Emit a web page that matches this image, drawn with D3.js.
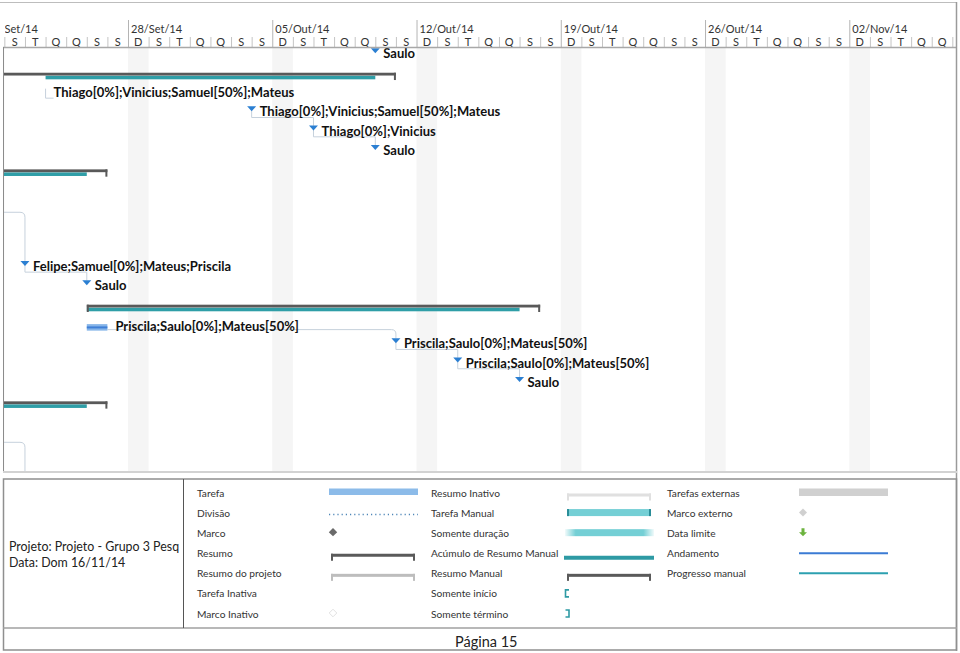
<!DOCTYPE html>
<html><head><meta charset="utf-8">
<script src="https://cdn.jsdelivr.net/npm/d3@7"></script>
<style>body{margin:0;background:#fff}svg{display:block}</style>
</head><body><svg id="c" width="960" height="653"></svg>
<script>
// ---------- data ----------
const weekStarts = ["2014-09-21","2014-09-28","2014-10-05","2014-10-12","2014-10-19","2014-10-26","2014-11-02"];
const weekLabels = ["21/Set/14","28/Set/14","05/Out/14","12/Out/14","19/Out/14","26/Out/14","02/Nov/14"];
const dayLetters = ["D","S","T","Q","Q","S","S"];

const summaryRows  = [1, 6, 13, 18];
const summaryStart = ["2014-09-19","2014-09-15","2014-09-26","2014-09-15"];
const summaryEnd   = ["2014-10-11","2014-09-27","2014-10-18","2014-09-27"];
const rollupStart  = ["2014-09-24","2014-09-15","2014-09-26","2014-09-15"];
const rollupEnd    = ["2014-10-10","2014-09-26","2014-10-17","2014-09-26"];

const milestoneRows   = [0, 3, 4, 5, 11, 12, 15, 16, 17];
const milestoneDates  = ["2014-10-10","2014-10-04","2014-10-07","2014-10-10","2014-09-23","2014-09-26","2014-10-11","2014-10-14","2014-10-17"];
const milestoneLabels = ["Saulo","Thiago[0%];Vinicius;Samuel[50%];Mateus","Thiago[0%];Vinicius","Saulo",
  "Felipe;Samuel[0%];Mateus;Priscila","Saulo","Priscila;Saulo[0%];Mateus[50%]","Priscila;Saulo[0%];Mateus[50%]","Saulo"];

const taskRows   = [14];
const taskStart  = ["2014-09-26"];
const taskEnd    = ["2014-09-27"];
const taskLabels = ["Priscila;Saulo[0%];Mateus[50%]"];

const noteRows   = [2];
const noteDates  = ["2014-09-24"];
const noteLabels = ["Thiago[0%];Vinicius;Samuel[50%];Mateus"];

// links: milestone -> next milestone
const linkFromRow  = [3, 4, 11, 15, 16];
const linkFromDate = ["2014-10-04","2014-10-07","2014-09-23","2014-10-11","2014-10-14"];
const linkToRow    = [4, 5, 12, 16, 17];
const linkToDate   = ["2014-10-07","2014-10-10","2014-09-26","2014-10-14","2014-10-17"];
// link from task bar end to milestone
const barLinkFromRow = [14], barLinkFromDate = ["2014-09-27"], barLinkToRow = [15], barLinkToDate = ["2014-10-11"];
// links entering from the left edge
const edgeLinkRow = [8.55, 20.45], edgeLinkToRow = [11, 23], edgeLinkDate = ["2014-09-23","2014-09-23"];

const legendCol1 = ["Tarefa","Divisão","Marco","Resumo","Resumo do projeto","Tarefa Inativa","Marco Inativo"];
const legendCol2 = ["Resumo Inativo","Tarefa Manual","Somente duração","Acúmulo de Resumo Manual","Resumo Manual","Somente início","Somente término"];
const legendCol3 = ["Tarefas externas","Marco externo","Data limite","Andamento","Progresso manual"];
const projectLines = ["Projeto: Projeto - Grupo 3 Pesq","Data: Dom 16/11/14"];
const pageLabel = "Página 15";

// ---------- setup ----------
const parse = d3.timeParse("%Y-%m-%d");
const svg = d3.select("#c");
const L = 3, R = 957, headerBottom = 47, chartBottom = 472;
const x = d3.scaleTime().domain([parse("2014-09-28"), parse("2014-11-02")]).range([128, 849.3]);
const row = d3.scaleLinear().domain([0, 22]).range([headerBottom, headerBottom + 22 * 19.33]);
const day = d3.timeDay;
const F = "Lato, 'Segoe UI', sans-serif";

const defs = svg.append("defs");
defs.append("clipPath").attr("id","cl").append("rect")
  .attr("x", L).attr("y", 0).attr("width", R - L).attr("height", chartBottom);
defs.append("clipPath").attr("id","clh").append("rect")
  .attr("x", 5).attr("y", 0).attr("width", R - 5).attr("height", chartBottom);

const g = svg.append("g").attr("clip-path","url(#cl)");
const gh = svg.append("g").attr("clip-path","url(#clh)");

// all days in view
const days = day.range(parse("2014-09-21"), parse("2014-11-09"));

// Sunday shading
g.selectAll("rect.sun").data(days.filter(d => d.getDay() === 0)).join("rect")
  .attr("x", d => x(d)).attr("width", d => x(day.offset(d,1)) - x(d))
  .attr("y", headerBottom + 1).attr("height", chartBottom - headerBottom - 1)
  .attr("fill", "#f5f5f5");

// header
g.selectAll("line.wk").data(weekStarts).join("line")
  .attr("x1", d => x(parse(d)) + 0.5).attr("x2", d => x(parse(d)) + 0.5)
  .attr("y1", 20).attr("y2", headerBottom).attr("stroke", "#b4b4b4");
gh.selectAll("text.wk").data(weekStarts).join("text")
  .attr("x", d => x(parse(d)) + 3).attr("y", 33)
  .attr("font-family", F).attr("font-size", 11).attr("fill", "#333")
  .text((d, i) => weekLabels[i]);
g.selectAll("line.dy").data(days.filter(d => d.getDay() !== 0)).join("line")
  .attr("x1", d => x(d) + 0.5).attr("x2", d => x(d) + 0.5)
  .attr("y1", 37).attr("y2", headerBottom).attr("stroke", "#c4c4c4");
g.selectAll("text.dy").data(days).join("text")
  .attr("x", d => (x(d) + x(day.offset(d,1))) / 2).attr("y", 45.5)
  .attr("text-anchor","middle")
  .attr("font-family", F).attr("font-size", 11).attr("fill", "#333")
  .text(d => dayLetters[d.getDay()]);

// borders
svg.append("line").attr("x1", 0).attr("x2", R).attr("y1", 2.5).attr("y2", 2.5).attr("stroke", "#bdbdbd");
svg.append("line").attr("x1", L).attr("x2", R).attr("y1", headerBottom + 0.5).attr("y2", headerBottom + 0.5).attr("stroke", "#a8a8a8").attr("stroke-width", 1.5);
svg.append("line").attr("x1", L + 0.5).attr("x2", L + 0.5).attr("y1", headerBottom).attr("y2", chartBottom).attr("stroke", "#8c8c8c");
svg.append("line").attr("x1", R - 0.5).attr("x2", R - 0.5).attr("y1", 2).attr("y2", 651).attr("stroke", "#9a9a9a").attr("stroke-width", 1.5);
svg.append("line").attr("x1", L).attr("x2", R).attr("y1", chartBottom).attr("y2", chartBottom).attr("stroke", "#d2d2d2").attr("stroke-width", 2);

// ---------- links ----------
const linkColor = "#c6d1dc";
function rounded(pts, r) {
  let p = `M${pts[0][0]},${pts[0][1]}`;
  for (let i = 1; i < pts.length - 1; i++) {
    const [x0,y0] = pts[i-1], [x1,y1] = pts[i], [x2,y2] = pts[i+1];
    const d1 = Math.hypot(x1-x0,y1-y0), d2 = Math.hypot(x2-x1,y2-y1);
    const rr = Math.min(r, d1/2, d2/2);
    const ax = x1 - (x1-x0)/d1*rr, ay = y1 - (y1-y0)/d1*rr;
    const bx = x1 + (x2-x1)/d2*rr, by = y1 + (y2-y1)/d2*rr;
    p += `L${ax},${ay}Q${x1},${y1} ${bx},${by}`;
  }
  const e = pts[pts.length-1];
  return p + `L${e[0]},${e[1]}`;
}
const lg = g.append("g").attr("fill","none").attr("stroke", linkColor).attr("stroke-width", 1);
linkFromRow.forEach((fr, i) => {
  const x1 = x(parse(linkFromDate[i])), x2 = x(parse(linkToDate[i]));
  const yb = row(fr) + 5.5, ym = row(fr) + 12.5, yt = row(linkToRow[i]) + 1.5;
  lg.append("path").attr("d", rounded([[x1,yb],[x1,ym],[x2,ym],[x2,yt]], 0));
});
barLinkFromRow.forEach((fr, i) => {
  const x1 = x(parse(barLinkFromDate[i])), x2 = x(parse(barLinkToDate[i]));
  const ym = row(fr) + 12, yt = row(barLinkToRow[i]) + 1.5;
  lg.append("path").attr("d", rounded([[x1,ym],[x2,ym],[x2,yt]], 5));
});
edgeLinkRow.forEach((r, i) => {
  const x2 = x(parse(edgeLinkDate[i]));
  lg.append("path").attr("d", rounded([[L, row(r)],[x2, row(r)],[x2, row(edgeLinkToRow[i]) + 1.5]], 5));
});
noteRows.forEach((r, i) => {
  const x1 = x(parse(noteDates[i]));
  lg.append("path").attr("d", `M${x1},${row(r)+3}V${row(r)+12.5}H${x1+8}`);
});

// ---------- summaries ----------
const sumColor = "#595959", rollColor = "#2f9ea7";
summaryRows.forEach((r, i) => {
  const xs = x(parse(summaryStart[i])), xe = x(parse(summaryEnd[i]));
  const top = row(r) + 6.4;
  g.append("rect").attr("x", x(parse(rollupStart[i]))).attr("width", x(parse(rollupEnd[i])) - x(parse(rollupStart[i])))
    .attr("y", top + 3).attr("height", 3.6).attr("fill", rollColor);
  g.append("rect").attr("x", xs).attr("width", xe - xs).attr("y", top).attr("height", 2.8).attr("fill", sumColor);
  g.append("rect").attr("x", xs).attr("width", 2).attr("y", top).attr("height", 7.3).attr("fill", sumColor);
  g.append("rect").attr("x", xe - 2).attr("width", 2).attr("y", top).attr("height", 7.3).attr("fill", sumColor);
});

// ---------- task bars ----------
taskRows.forEach((r, i) => {
  const xs = x(parse(taskStart[i])), xe = x(parse(taskEnd[i]));
  g.append("rect").attr("x", xs).attr("width", xe - xs).attr("y", row(r) + 6.5).attr("height", 6.5).attr("fill", "#86b5e9");
  g.append("rect").attr("x", xs).attr("width", xe - xs).attr("y", row(r) + 8.8).attr("height", 2).attr("fill", "#3f7fd6");
  g.append("text").attr("x", xe + 8).attr("y", row(r) + 13)
    .attr("font-family", F).attr("font-weight", 700).attr("font-size", 13).attr("fill", "#111").text(taskLabels[i]);
});

// ---------- milestones ----------
milestoneRows.forEach((r, i) => {
  const cx = x(parse(milestoneDates[i]));
  const t = row(r) + 1.3;
  g.append("path").attr("d", `M${cx-4.5},${t}L${cx+4.5},${t}L${cx},${t+5}Z`).attr("fill", "#2b7fd2");
  g.append("text").attr("x", cx + 8).attr("y", row(r) + 11.3)
    .attr("font-family", F).attr("font-weight", 700).attr("font-size", 13).attr("fill", "#111").text(milestoneLabels[i]);
});
noteRows.forEach((r, i) => {
  g.append("text").attr("x", x(parse(noteDates[i])) + 8).attr("y", row(r) + 11.3)
    .attr("font-family", F).attr("font-weight", 700).attr("font-size", 13).attr("fill", "#111").text(noteLabels[i]);
});

// ---------- legend ----------
const legTop = 479, legBottom = 628, footBottom = 650, divX = 183.5;
svg.append("rect").attr("x", L + 0.5).attr("y", legTop).attr("width", R - L - 1).attr("height", footBottom - legTop)
  .attr("fill", "none").attr("stroke", "#8f8f8f").attr("stroke-width", 1.5);
svg.append("line").attr("x1", L).attr("x2", R).attr("y1", legBottom).attr("y2", legBottom).attr("stroke", "#a0a0a0").attr("stroke-width", 1.5);
svg.append("line").attr("x1", divX).attr("x2", divX).attr("y1", legTop).attr("y2", legBottom).attr("stroke", "#555");

projectLines.forEach((t, i) => svg.append("text").attr("x", 9).attr("y", 551 + i * 16)
  .attr("font-family", F).attr("font-size", 12.4).attr("fill", "#222").text(t));
svg.append("text").attr("x", 455).attr("y", 647).attr("font-family", F).attr("font-size", 14.5).attr("fill", "#222").text(pageLabel);

const ly = d3.scaleLinear().domain([0, 6]).range([497, 617.5]);
const colX = [197, 431, 667];
[legendCol1, legendCol2, legendCol3].forEach((col, c) => {
  svg.selectAll(null).data(col).join("text")
    .attr("x", colX[c]).attr("y", (d, i) => ly(i))
    .attr("font-family", F).attr("font-size", 10.2).attr("fill", "#333").text(d => d);
});

const grad = defs.append("linearGradient").attr("id","fade");
grad.append("stop").attr("offset","0").attr("stop-color","#74cfd5").attr("stop-opacity",0.1);
grad.append("stop").attr("offset","0.12").attr("stop-color","#74cfd5").attr("stop-opacity",1);
grad.append("stop").attr("offset","0.88").attr("stop-color","#74cfd5").attr("stop-opacity",1);
grad.append("stop").attr("offset","1").attr("stop-color","#74cfd5").attr("stop-opacity",0.1);

function bracket(x1, x2, yb, color) {
  const gg = svg.append("g").attr("fill", color);
  gg.append("rect").attr("x", x1).attr("y", yb).attr("width", x2 - x1).attr("height", 3);
  gg.append("rect").attr("x", x1).attr("y", yb).attr("width", 2).attr("height", 7);
  gg.append("rect").attr("x", x2 - 2).attr("y", yb).attr("width", 2).attr("height", 7);
}
function diamond(cx, cy, s, fill, stroke) {
  svg.append("path").attr("d", `M${cx},${cy-s}L${cx+s},${cy}L${cx},${cy+s}L${cx-s},${cy}Z`)
    .attr("fill", fill).attr("stroke", stroke || "none");
}
// col1 symbols
let yb = ly(0);
svg.append("rect").attr("x", 329).attr("y", yb - 8.5).attr("width", 89).attr("height", 6.5).attr("fill", "#8cbbe9");
yb = ly(1);
svg.append("line").attr("x1", 329).attr("x2", 418).attr("y1", yb - 2.5).attr("y2", yb - 2.5)
  .attr("stroke", "#4f87b8").attr("stroke-width", 1.5).attr("stroke-dasharray", "1.2,3");
diamond(333, ly(2) - 5, 4.2, "#6a6a6a");
bracket(331, 415, ly(3) - 3.5, "#5a5a5a");
bracket(331, 415, ly(4) - 3.5, "#bdbdbd");
diamond(333, ly(6) - 4.5, 3.8, "#fff", "#e2e2e2");
// col2 symbols
bracket(567, 651, ly(0) - 3.5, "#e0e0e0");
yb = ly(1);
svg.append("rect").attr("x", 567).attr("y", yb - 8).attr("width", 84).attr("height", 7).attr("fill", "#74cfd5");
svg.append("rect").attr("x", 567).attr("y", yb - 8).attr("width", 2).attr("height", 7).attr("fill", "#2a8d98");
svg.append("rect").attr("x", 649).attr("y", yb - 8).attr("width", 2).attr("height", 7).attr("fill", "#2a8d98");
svg.append("rect").attr("x", 565).attr("y", ly(2) - 8).attr("width", 89).attr("height", 7).attr("fill", "url(#fade)");
svg.append("rect").attr("x", 564).attr("y", ly(3) - 1.5).attr("width", 90).attr("height", 4).attr("fill", "#2e9aa4");
bracket(567, 651, ly(4) - 3.5, "#5a5a5a");
svg.append("path").attr("d", `M569,${ly(5)-7.5}H565.5V${ly(5)-0.5}H569`).attr("fill","none").attr("stroke","#2e9aa4").attr("stroke-width",1.6);
svg.append("path").attr("d", `M565.5,${ly(6)-7.5}H569V${ly(6)-0.5}H565.5`).attr("fill","none").attr("stroke","#2e9aa4").attr("stroke-width",1.6);
// col3 symbols
svg.append("rect").attr("x", 799).attr("y", ly(0) - 8.5).attr("width", 89).attr("height", 7.5).attr("fill", "#d0d0d0");
diamond(803, ly(1) - 4.5, 4, "#d0d0d0");
yb = ly(2);
svg.append("path").attr("d", `M801.5,${yb-9}H804.5V${yb-5}H807L803,${yb-1}L799,${yb-5}H801.5Z`).attr("fill", "#6cb33e");
svg.append("line").attr("x1", 799).attr("x2", 888).attr("y1", ly(3) - 4).attr("y2", ly(3) - 4).attr("stroke", "#3b7bd4").attr("stroke-width", 2);
svg.append("line").attr("x1", 799).attr("x2", 888).attr("y1", ly(4) - 4).attr("y2", ly(4) - 4).attr("stroke", "#2ca0b0").attr("stroke-width", 2);
</script></body></html>
